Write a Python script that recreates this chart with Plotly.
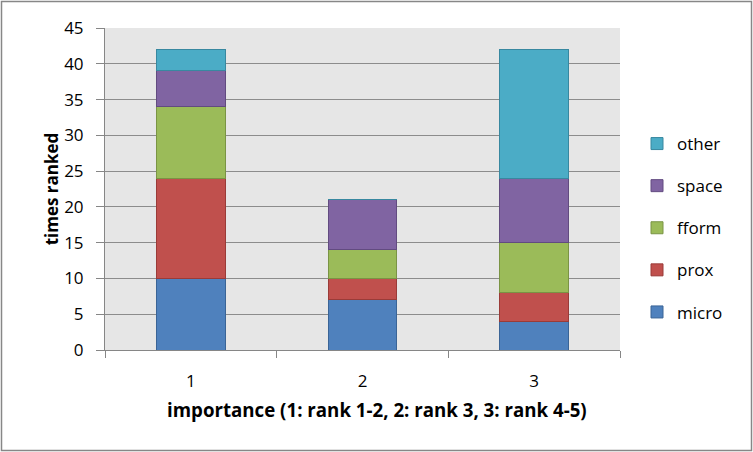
import plotly.graph_objects as go

categories = ["1", "2", "3"]
series_names = ["micro", "prox", "fform", "space", "other"]
micro = [10, 7, 4]
prox = [14, 3, 4]
fform = [10, 4, 7]
space = [5, 7, 9]
other = [3, 0, 18]
colors = ["#4F81BD", "#C0504D", "#9BBB59", "#8064A2", "#4BACC6"]
lines = ["#3A6496", "#9A3B38", "#7A9444", "#624B80", "#3888A0"]
values = [micro, prox, fform, space, other]
y_ticks = [0, 5, 10, 15, 20, 25, 30, 35, 40, 45]
x_title = "importance (1: rank 1-2, 2: rank 3, 3: rank 4-5)"
y_title = "times ranked"

fig = go.Figure()
n = len(series_names)
for i, (name, vals, c, lc) in enumerate(zip(series_names, values, colors, lines)):
    fig.add_trace(go.Bar(
        x=categories, y=vals, name=name, legendgroup=name,
        legendrank=1000 + (n - i),
        marker=dict(color=c, line=dict(color=lc, width=1)),
        width=0.40,
    ))

font = "'Open Sans', sans-serif"
W, H = 753, 452
L, R, T, B = 105, 133, 28, 102
pw, ph = W - L - R, H - T - B

fig.update_layout(
    barmode="stack",
    width=W, height=H,
    margin=dict(l=L, r=R, t=T, b=B),
    paper_bgcolor="white",
    plot_bgcolor="#E6E6E6",
    font=dict(family=font, size=17, color="black"),
    showlegend=True,
    legend=dict(
        x=(637 - L) / pw, y=1 - (126 - T) / ph,
        xanchor="left", yanchor="top",
        traceorder="grouped",
        font=dict(size=17, family=font),
        itemwidth=30,
        tracegroupgap=17,
        bgcolor="rgba(0,0,0,0)",
    ),
    xaxis=dict(
        range=[-0.5, 2.5],
        showline=True, linecolor="#868686", linewidth=1,
        ticks="outside", tickson="boundaries", ticklen=7, tickcolor="#868686",
        showgrid=False,
        tickfont=dict(size=17),
        ticklabelstandoff=16,
    ),
    yaxis=dict(
        range=[0, 45],
        tickvals=y_ticks,
        showline=True, linecolor="#868686", linewidth=1,
        ticks="outside", ticklen=8, tickcolor="#868686",
        showgrid=True, gridcolor="#8C8C8C", gridwidth=1,
        zeroline=False,
        tickfont=dict(size=17),
        ticklabelstandoff=9,
        title=dict(text="<b>" + y_title + "</b>", font=dict(size=17), standoff=1),
    ),
    annotations=[dict(
        text="<b>" + x_title + "</b>",
        xref="paper", yref="paper",
        x=(376.5 - L) / pw, y=1 - (410 - T) / ph,
        xanchor="center", yanchor="middle",
        showarrow=False, font=dict(size=18.7, family=font),
    )],
    shapes=[dict(
        type="rect", xref="paper", yref="paper",
        x0=(1.5 - L) / pw, x1=(751.5 - L) / pw,
        y0=1 - (450.5 - T) / ph, y1=1 - (1.5 - T) / ph,
        line=dict(color="#878787", width=1.5), fillcolor="rgba(0,0,0,0)",
        layer="below",
    )],
)

fig.write_html("out.html", config={"displayModeBar": False},
               post_script="document.body.style.margin='0';")
